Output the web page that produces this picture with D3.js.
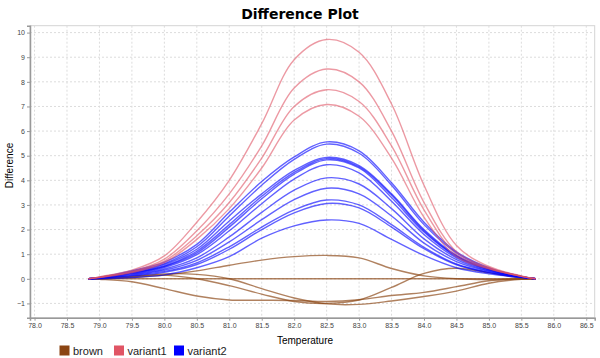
<!DOCTYPE html>
<html>
<head>
<meta charset="utf-8">
<script src="https://cdn.jsdelivr.net/npm/d3@7/dist/d3.min.js"></script>
<style>
  html, body { margin: 0; padding: 0; background: #fff; }
  svg { display: block; font-family: "Liberation Sans", Arial, sans-serif; }
</style>
</head>
<body>
<svg id="chart" width="600" height="358"></svg>
<script>
// ---- data ----
const temps = [78.83, 79.0, 79.5, 80.0, 80.5, 81.0, 81.5, 82.0, 82.5, 83.0, 83.5, 84.0, 84.5, 85.0, 85.5, 85.72];

const brownSeries = [
  [0, 0, 0, 0, 0, 0, 0, 0, 0, 0, 0, 0, 0, 0, 0, 0],
  [0, 0.0, 0.05, 0.15, 0.32, 0.55, 0.76, 0.9, 0.95, 0.85, 0.42, 0.12, 0.0, -0.03, -0.01, 0],
  [0, -0.02, -0.12, -0.4, -0.7, -0.86, -0.87, -0.88, -0.92, -0.85, -0.68, -0.55, -0.32, -0.08, 0, 0],
  [0, 0.02, 0.1, 0.15, 0.0, -0.28, -0.62, -0.92, -1.0, -0.86, -0.35, 0.22, 0.43, 0.24, 0.03, 0],
  [0, 0.01, 0.08, 0.2, 0.18, 0.0, -0.4, -0.78, -1.02, -1.04, -0.9, -0.72, -0.5, -0.18, -0.02, 0]
];

const variant1Series = [
  [0, 0.08, 0.35, 0.93, 2.3, 4.0, 6.3, 8.9, 9.72, 9.2, 7.1, 3.8, 1.35, 0.5, 0.12, 0],
  [0, 0.07, 0.3, 0.8, 1.95, 3.45, 5.4, 7.75, 8.52, 8.0, 6.0, 3.1, 1.1, 0.45, 0.1, 0],
  [0, 0.06, 0.28, 0.72, 1.75, 3.1, 4.9, 7.0, 7.68, 7.2, 5.4, 2.8, 1.0, 0.42, 0.1, 0],
  [0, 0.05, 0.25, 0.66, 1.6, 2.85, 4.5, 6.45, 7.08, 6.6, 4.9, 2.5, 0.9, 0.4, 0.1, 0]
];

const variant2Series = [
  [0, 0.06, 0.33, 0.68, 1.4, 2.7, 3.95, 4.95, 5.56, 5.2, 3.9, 2.3, 1.1, 0.45, 0.1, 0],
  [0, 0.05, 0.3, 0.62, 1.3, 2.55, 3.8, 4.85, 5.47, 5.1, 3.8, 2.2, 1.05, 0.42, 0.1, 0],
  [0, 0.05, 0.28, 0.58, 1.2, 2.35, 3.45, 4.4, 4.93, 4.6, 3.45, 2.0, 0.95, 0.4, 0.09, 0],
  [0, 0.04, 0.25, 0.52, 1.12, 2.2, 3.35, 4.32, 4.88, 4.55, 3.4, 1.95, 0.92, 0.38, 0.09, 0],
  [0, 0.04, 0.24, 0.5, 1.05, 2.1, 3.25, 4.25, 4.83, 4.5, 3.3, 1.9, 0.9, 0.37, 0.08, 0],
  [0, 0.04, 0.22, 0.46, 0.98, 1.95, 3.05, 4.05, 4.63, 4.3, 3.15, 1.8, 0.85, 0.35, 0.08, 0],
  [0, 0.03, 0.2, 0.4, 0.85, 1.7, 2.7, 3.6, 4.1, 3.85, 2.85, 1.62, 0.78, 0.32, 0.07, 0],
  [0, 0.03, 0.17, 0.35, 0.75, 1.5, 2.4, 3.22, 3.68, 3.45, 2.55, 1.45, 0.7, 0.3, 0.07, 0],
  [0, 0.02, 0.14, 0.3, 0.65, 1.3, 2.1, 2.8, 3.2, 3.0, 2.2, 1.28, 0.6, 0.26, 0.06, 0],
  [0, 0.02, 0.12, 0.26, 0.58, 1.2, 2.0, 2.68, 3.06, 2.88, 2.1, 1.22, 0.57, 0.25, 0.06, 0],
  [0, 0.0, 0.05, 0.16, 0.45, 0.9, 1.65, 2.15, 2.39, 2.25, 1.6, 0.95, 0.45, 0.2, 0.05, 0]
];

const categories = ["brown", "variant1", "variant2"];
const xTicks = d3.range(78.0, 86.51, 0.5);
const yTicks = d3.range(-1, 10.01, 1);

// ---- styles ----
const lineColors = { brown: "#8B4513", variant1: "#e05565", variant2: "#0000ff" };
const legendColors = { brown: "#8B4513", variant1: "#e05565", variant2: "#0000ff" };
const lineOpacity = { brown: 0.68, variant1: 0.6, variant2: 0.62 };

const svg = d3.select("#chart");
const pLeft = 30, pRight = 594.7, pTop = 25.7, pBottom = 317.7;

const x = d3.scaleLinear().domain([77.93, 86.63]).range([pLeft, pRight]);
const y = d3.scaleLinear().domain([-1.58, 10.28]).range([pBottom, pTop]);

// title
svg.append("text")
  .attr("x", 300).attr("y", 18.5)
  .attr("text-anchor", "middle")
  .attr("font-size", 14).attr("font-weight", "bold")
  .attr("font-family", "'DejaVu Sans', Verdana, sans-serif")
  .attr("fill", "#000")
  .text("Difference Plot");

// plot background + grid
svg.append("rect").attr("x", pLeft).attr("y", pTop)
  .attr("width", pRight - pLeft).attr("height", pBottom - pTop)
  .attr("fill", "#fff").attr("stroke", "#d4d4d4").attr("stroke-width", 1);

const grid = svg.append("g");
grid.selectAll("line.vx").data(xTicks).join("line")
  .attr("x1", d => x(d)).attr("x2", d => x(d))
  .attr("y1", pTop).attr("y2", pBottom)
  .attr("stroke", "#dcdcdc").attr("stroke-dasharray", "2,2").attr("stroke-width", 1);
grid.selectAll("line.hy").data(yTicks).join("line")
  .attr("y1", d => y(d)).attr("y2", d => y(d))
  .attr("x1", pLeft).attr("x2", pRight)
  .attr("stroke", "#dcdcdc").attr("stroke-dasharray", "2,2").attr("stroke-width", 1);

// axes
const xAxis = d3.axisBottom(x).tickValues(xTicks).tickFormat(d3.format(".1f")).tickSize(3).tickPadding(2);
const yAxis = d3.axisLeft(y).tickValues(yTicks).tickFormat(d3.format("d")).tickSize(3).tickPadding(2);

const gx = svg.append("g").attr("transform", `translate(0,${pBottom})`).call(xAxis);
const gy = svg.append("g").attr("transform", `translate(${pLeft},0)`).call(yAxis);
[gx, gy].forEach(g => {
  g.select(".domain").attr("stroke", "#999").attr("stroke-width", 1.5);
  g.selectAll(".tick line").attr("stroke", "#999");
  g.selectAll(".tick text").attr("fill", "#444").attr("font-size", 7)
    .attr("font-family", "'Liberation Sans', Arial, sans-serif");
});

// lines
const line = d3.line()
  .x((d, i) => x(temps[i]))
  .y(d => y(d))
  .curve(d3.curveCatmullRom.alpha(0.5));

const seriesByCat = { brown: brownSeries, variant1: variant1Series, variant2: variant2Series };
const lines = svg.append("g");
["brown", "variant2", "variant1"].forEach(cat => {
  lines.selectAll(null).data(seriesByCat[cat]).join("path")
    .attr("d", d => line(d))
    .attr("fill", "none")
    .attr("stroke", lineColors[cat])
    .attr("stroke-opacity", lineOpacity[cat])
    .attr("stroke-width", 1.4);
});

// axis labels
svg.append("text")
  .attr("x", 305).attr("y", 343.5)
  .attr("text-anchor", "middle").attr("font-size", 10).attr("fill", "#000")
  .text("Temperature");
svg.append("text")
  .attr("transform", "translate(12.5,165.5) rotate(-90)")
  .attr("text-anchor", "middle").attr("font-size", 10).attr("fill", "#000")
  .text("Difference");

// legend
const legendX = [59.5, 114, 174];
const lg = svg.append("g");
categories.forEach((c, i) => {
  lg.append("rect").attr("x", legendX[i]).attr("y", 345.5)
    .attr("width", 10).attr("height", 10).attr("fill", legendColors[c]);
  lg.append("text").attr("x", legendX[i] + 13.5).attr("y", 355)
    .attr("font-size", 11).attr("fill", "#222").text(c);
});
</script>
</body>
</html>
